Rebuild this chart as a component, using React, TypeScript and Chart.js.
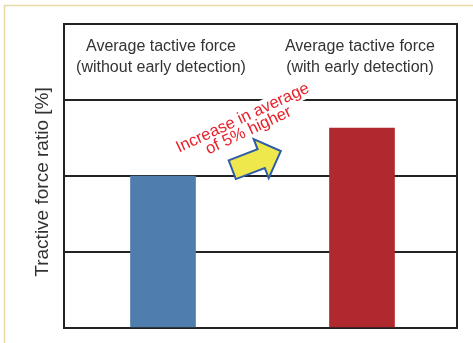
import React, { useEffect, useRef } from "react";
import { Chart, registerables } from "chart.js";

Chart.register(...registerables);

// ---- data ----
const categories = ["without early detection", "with early detection"];
const categoryPositions = [0, 1];
const headerLine1 = ["Average tactive force", "Average tactive force"];
const headerLine2 = ["(without early detection)", "(with early detection)"];
const ratioValues = [2.0, 2.63];
const barColors = ["#4F7DAE", "#B0292F"];
const yMin = 0;
const yMax = 4;
const yStep = 1;
const yTitle = "Tractive force ratio [%]";
const noteLines = ["Increase in average", "of 5% higher"];

const FONT = '"Liberation Sans", Arial, Helvetica, sans-serif';

const decorPlugin = {
  id: "decor",
  beforeDraw(chart: any) {
    const { ctx, width, height } = chart;
    ctx.save();
    ctx.fillStyle = "#ffffff";
    ctx.fillRect(0, 0, width, height);
    ctx.strokeStyle = "#E6D9A8";
    ctx.lineWidth = 1.5;
    ctx.beginPath();
    ctx.moveTo(4.5, height);
    ctx.lineTo(4.5, 5.5);
    ctx.lineTo(width, 5.5);
    ctx.stroke();
    ctx.restore();
  },
  afterDatasetsDraw(chart: any) {
    const { ctx, chartArea: a } = chart;
    const x = chart.scales.x;
    const y = chart.scales.y;
    ctx.save();

    // side borders
    ctx.strokeStyle = "#222222";
    ctx.lineWidth = 2;
    ctx.beginPath();
    ctx.moveTo(a.left, a.top - 1);
    ctx.lineTo(a.left, a.bottom + 1);
    ctx.moveTo(a.right, a.top - 1);
    ctx.lineTo(a.right, a.bottom + 1);
    ctx.stroke();

    // header labels inside top band
    ctx.fillStyle = "#333333";
    ctx.font = `16px ${FONT}`;
    ctx.textAlign = "center";
    ctx.textBaseline = "middle";
    categories.forEach((_, i) => {
      const cx = x.getPixelForValue(categoryPositions[i]) - 2;
      ctx.fillText(headerLine1[i], cx, y.getPixelForValue(3.7));
      ctx.fillText(headerLine2[i], cx, y.getPixelForValue(3.42));
    });

    // y axis title
    ctx.save();
    ctx.translate(42.5, (a.top + a.bottom) / 2 + 6);
    ctx.rotate(-Math.PI / 2);
    ctx.font = `19px ${FONT}`;
    ctx.fillStyle = "#333333";
    ctx.textAlign = "center";
    ctx.textBaseline = "middle";
    ctx.fillText(yTitle, 0, 0);
    ctx.restore();

    // annotation text
    ctx.save();
    ctx.translate(x.getPixelForValue(0.425), y.getPixelForValue(2.625));
    ctx.rotate((-25 * Math.PI) / 180);
    ctx.font = `16.5px ${FONT}`;
    ctx.textAlign = "center";
    ctx.textBaseline = "alphabetic";
    const lh = 14;
    noteLines.forEach((t, k) => {
      const by = (k - (noteLines.length - 1) / 2) * lh;
      const w = ctx.measureText(t).width;
      ctx.fillStyle = "#ffffff";
      ctx.fillRect(-w / 2 - 1, by - 13, w + 2, 18);
    });
    ctx.fillStyle = "#E8202A";
    noteLines.forEach((t, k) => {
      const by = (k - (noteLines.length - 1) / 2) * lh;
      ctx.fillText(t, 0, by);
    });
    ctx.restore();

    // arrow
    ctx.save();
    ctx.translate(x.getPixelForValue(0.47), y.getPixelForValue(2.205));
    ctx.rotate((-21 * Math.PI) / 180);
    const L = 52, bw = 20, hw = 42, hl = 21;
    ctx.beginPath();
    ctx.moveTo(-L / 2, -bw / 2);
    ctx.lineTo(L / 2 - hl, -bw / 2);
    ctx.lineTo(L / 2 - hl, -hw / 2);
    ctx.lineTo(L / 2, 0);
    ctx.lineTo(L / 2 - hl, hw / 2);
    ctx.lineTo(L / 2 - hl, bw / 2);
    ctx.lineTo(-L / 2, bw / 2);
    ctx.closePath();
    ctx.fillStyle = "#EEE84C";
    ctx.fill();
    ctx.strokeStyle = "#2D5CA8";
    ctx.lineWidth = 2;
    ctx.lineJoin = "miter";
    ctx.stroke();
    ctx.restore();

    ctx.restore();
  },
};

export default function App() {
  const canvasRef = useRef<HTMLCanvasElement | null>(null);

  useEffect(() => {
    document.body.style.margin = "0";
    const canvas = canvasRef.current;
    if (!canvas) return;
    const chart = new Chart(canvas, {
      type: "bar",
      data: {
        datasets: [
          {
            data: categoryPositions.map((p, i) => ({ x: p, y: ratioValues[i] })),
            backgroundColor: barColors,
            borderWidth: 0,
            barThickness: 65,
          },
        ],
      },
      options: {
        animation: false,
        responsive: true,
        maintainAspectRatio: false,
        layout: { padding: { left: 64, top: 24, right: 16, bottom: 15 } },
        plugins: {
          legend: { display: false },
          tooltip: { enabled: false },
          title: { display: false },
        },
        scales: {
          x: {
            type: "linear",
            display: false,
            offset: false,
            min: -0.4975,
            max: 1.4775,
          },
          y: {
            display: true,
            min: yMin,
            max: yMax,
            ticks: { display: false, stepSize: yStep },
            grid: { color: "#222222", lineWidth: 2, drawTicks: false },
            border: { display: false },
          },
        },
      },
      plugins: [decorPlugin],
    });
    return () => chart.destroy();
  }, []);

  return (
    <div style={{ width: 473, height: 343, position: "relative" }}>
      <canvas ref={canvasRef} />
    </div>
  );
}
